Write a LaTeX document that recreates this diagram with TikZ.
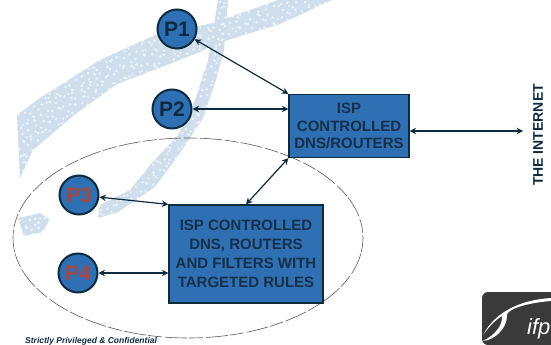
\documentclass[tikz,border=0pt]{standalone}
\usepackage{fontspec}
\setmainfont{Liberation Sans}
\usetikzlibrary{arrows.meta}
\definecolor{boxblue}{HTML}{2F6FB3}
\definecolor{navy}{HTML}{0E2A3F}
\definecolor{boxtxt}{HTML}{16304A}
\definecolor{swoosh}{HTML}{CFDEEC}
\definecolor{redtxt}{HTML}{A5483F}
\definecolor{logogray}{HTML}{3A3A3A}
\tikzset{
  peer/.style={circle,draw=navy,line width=2pt,fill=boxblue,minimum size=39pt,inner sep=0pt,font=\bfseries\fontsize{21}{21}\selectfont,text=navy},
  peerred/.style={peer,text=redtxt},
  ctrlbox/.style={rectangle,draw=navy,line width=1.2pt,fill=boxblue,align=center,inner sep=0pt,text=boxtxt,font=\bfseries\fontsize{15}{17.5}\selectfont},
  link/.style={{Stealth[length=6.5pt,width=6.5pt]}-{Stealth[length=6.5pt,width=6.5pt]},draw=navy,line width=1.2pt},
}
\begin{document}
\begin{tikzpicture}[x=1pt,y=-1pt]
\useasboundingbox (0,0) rectangle (551,345);
% background swoosh
\begin{scope}
\clip (17,115) -- (40,98) -- (100,60) -- (155,35) -- (213,23) -- (278,0) -- (332,0) -- (280,24) -- (215,44) -- (200,52) -- (167,65) -- (117,84) -- (73,116) -- (33,150) -- (20,178) -- cycle
 (218,0) -- (228,0) -- (224,50) -- (216,80) -- (203,118) -- (182,150) -- (155,187) -- (118,212) -- (98,218) -- (100,205) -- (130,190) -- (150,165) -- (178,135) -- (195,100) -- (208,60) -- cycle
 (18,218) -- (40,213) -- (50,220) -- (42,232) -- (24,236) -- cycle;
\fill[swoosh] (0,0) rectangle (340,240);
\pgfmathsetseed{7}
\foreach \xx in {0,6,...,336}{\foreach \yy in {0,6,...,236}{
  \pgfmathsetmacro{\dx}{\xx+6*rnd}\pgfmathsetmacro{\dy}{\yy+6*rnd}
  \fill[white,opacity=.6] (\dx,\dy) circle[radius=1.4];
}}
\end{scope}
% ellipse
\draw[dash pattern=on 14pt off 2pt on 22pt off 3pt,line width=0.6pt,draw=black!65] (188,238) ellipse [x radius=175,y radius=100];
% nodes
\node[peer] (p1) at (177,29) {P1};
\node[peer] (p2) at (172,109) {P2};
\node[peerred] (p3) at (79,195) {P3};
\node[peerred] (p4) at (78,273) {P4};
\node[ctrlbox,minimum width=120pt,minimum height=63pt] (b1) at (349,126) {ISP\\CONTROLLED\\DNS/ROUTERS};
\node[ctrlbox,minimum width=154pt,minimum height=98pt,font=\bfseries\fontsize{15}{19}\selectfont] (b2) at (246,254) {ISP CONTROLLED\\DNS, ROUTERS\\AND FILTERS WITH\\TARGETED RULES};
\coordinate (net) at (523,131);
\node[rotate=90,font=\bfseries\fontsize{14}{14}\selectfont,text=navy,inner sep=0pt] (inet) at (538,135) {THE INTERNET};
\node[font=\bfseries\itshape\fontsize{8.5}{8.5}\selectfont,text=navy,anchor=west,inner sep=0pt] (conf) at (25,341) {Strictly Privileged \& Confidential};
% connectors
\draw[link] (p1) -- (b1.north west);
\draw[link] (p2) -- (b1.west |- p2);
\draw[link] (b1.east |- net) -- (net);
\draw[link] (p3) -- (b2.north west);
\draw[link] (p4) -- (b2.west |- p4);
\draw[link] (b1.south west) -- (b2.north);
% logo
\path[fill=logogray,rounded corners=6pt] (482,345) -- (482,292) -- (560,292) -- (560,345) -- cycle;
\path[fill=white] (483,335) .. controls (495,312) and (520,300) .. (551,298) -- (551,301) .. controls (525,303) and (505,310) .. (507,316) .. controls (507,328) and (495,340) .. (483,341) .. controls (495,335) and (503,325) .. (502,316) .. controls (495,320) and (488,328) .. (483,335) -- cycle;
\node[text=white,font=\itshape\fontsize{22}{22}\selectfont,anchor=base west,inner sep=0pt] (ifp) at (527,334) {ifp};
\end{tikzpicture}
\end{document}
